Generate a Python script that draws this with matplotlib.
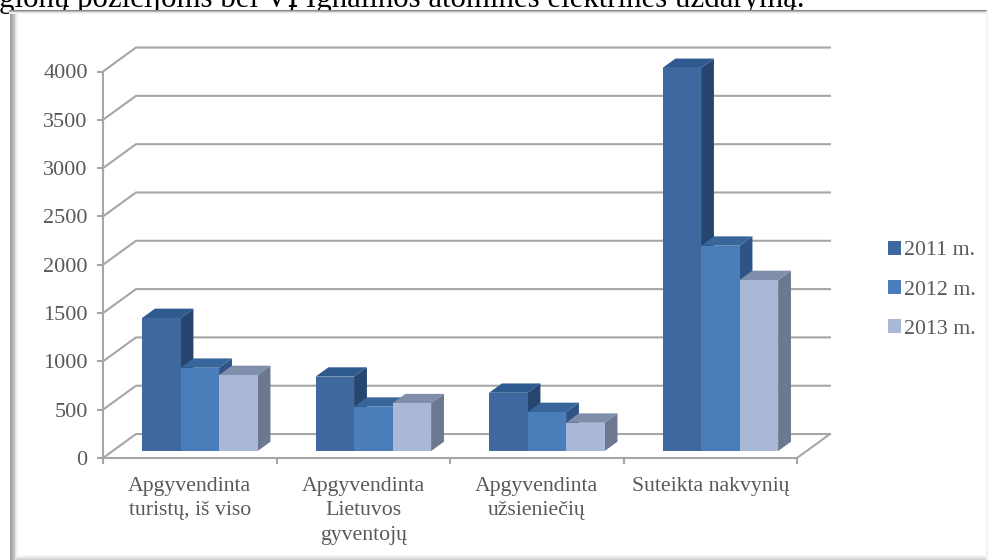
import matplotlib
matplotlib.use('Agg')
from matplotlib import pyplot as plt
from matplotlib.patches import Polygon, Patch

plt.rcParams["font.family"] = ["Liberation Serif", "DejaVu Serif"]

categories = ["Apgyvendinta\nturistų, iš viso", "Apgyvendinta\nLietuvos\ngyventojų",
              "Apgyvendinta\nužsieniečių", "Suteikta nakvynių"]
series_names = ["2011 m.", "2012 m.", "2013 m."]
values_2011 = [1377, 770, 603, 3965]
values_2012 = [862, 459, 404, 2125]
values_2013 = [787, 495, 293, 1770]
y_ticks = [0, 500, 1000, 1500, 2000, 2500, 3000, 3500, 4000]
header = "gionų pozicijoms bei VĮ Ignalinos atominės elektrinės uždarymą."

front_colors = ["#3F689F", "#4A7EBB", "#A9B8D6"]
side_colors = ["#264670", "#2F5384", "#6B7890"]
top_colors = ["#2F5A8F", "#38659A", "#7F8EAA"]
text_color = "#595959"
grid_color = "#A6A6A6"

W, H = 988, 560
fig = plt.figure(figsize=(W / 100, H / 100), dpi=100, facecolor="white")

# page background: header line cut by the picture frame, soft shadow on the edges
bg = fig.add_axes([0, 0, 1, 1], zorder=0)
bg.set_xlim(0, W)
bg.set_ylim(H, 0)
bg.axis("off")
bg.text(-1, 7, header, fontsize=22.2, color="black", va="baseline", ha="left")
bg.fill_between([0, W], 10, H, color="white", zorder=2)
for i, c in enumerate(["#9A9A9A", "#A8A8A8", "#B0B0B0", "#B8B8B8", "#C8C8C8", "#DEDEDE", "#EEEEEE", "#F7F7F7"]):
    bg.plot([9.5 + i, 9.5 + i], [10, H], color=c, lw=0.75, zorder=3)
for i, c in enumerate(["#8A8A8A", "#B5B5B5", "#E5E5E5", "#F5F5F5"]):
    bg.plot([9, W - 2], [10 + i, 10 + i], color=c, lw=0.75, zorder=3)
for i, c in enumerate(["#F8F8F8", "#F0F0F0", "#E8E8E8", "#DDDDDD", "#D0D0D0"]):
    bg.plot([16, W], [555 + i, 555 + i], color=c, lw=0.75, zorder=3)
for i, c in enumerate(["#F8F8F8", "#F0F0F0", "#E8E8E8"]):
    bg.plot([W - 3 + i + 0.5, W - 3 + i + 0.5], [11, H], color=c, lw=0.75, zorder=3)

# front plane of the plot, everything else is pushed back from it
ax = fig.add_axes([103 / W, (H - 458) / H, 694 / W, 386.5 / H], zorder=1)
ax.patch.set_alpha(0)
ax.set_xlim(0, 4)
ax.set_ylim(0, 4000)
for s in ["top", "right"]:
    ax.spines[s].set_visible(False)
for s in ["left", "bottom"]:
    ax.spines[s].set_color(grid_color)
    ax.spines[s].set_linewidth(1.5)

depth_x = 0.19
depth_y = 248


def proj(x, y, d):
    return x + d * depth_x, y + d * depth_y


# walls
for v in y_ticks:
    xs, ys = zip(proj(0, v, 0), proj(0, v, 1), proj(4, v, 1))
    ax.plot(xs, ys, color=grid_color, lw=1.5, clip_on=False, zorder=1)
xs, ys = zip(proj(4, 0, 0), proj(4, 0, 1))
ax.plot(xs, ys, color=grid_color, lw=1.5, clip_on=False, zorder=1)

# bars
bar_w = 0.222
d0, d1 = 0.29, 0.68
start = 0.17
all_values = [values_2011, values_2012, values_2013]
for g in range(len(categories)):
    for s, vals in enumerate(all_values):
        v = vals[g]
        x0 = g + start + s * bar_w
        x1 = x0 + bar_w
        side = [proj(x1, 0, d0), proj(x1, 0, d1), proj(x1, v, d1), proj(x1, v, d0)]
        top = [proj(x0, v, d0), proj(x1, v, d0), proj(x1, v, d1), proj(x0, v, d1)]
        front = [proj(x0, 0, d0), proj(x1, 0, d0), proj(x1, v, d0), proj(x0, v, d0)]
        ax.add_patch(Polygon(side, fc=side_colors[s], ec="none", clip_on=False, zorder=3))
        ax.add_patch(Polygon(top, fc=top_colors[s], ec="none", clip_on=False, zorder=3))
        ax.add_patch(Polygon(front, fc=front_colors[s], ec="none", clip_on=False, zorder=3))

ax.set_yticks(y_ticks)
ax.set_xticks(range(5))
ax.set_xticklabels([])
ax.set_xticks([i + 0.5 for i in range(4)], labels=categories, minor=True)
ax.tick_params(axis="y", length=4, width=1.5, color=grid_color, labelcolor=text_color,
               labelsize=16, pad=7)
ax.tick_params(axis="x", which="major", length=4, width=1.5, color=grid_color)
ax.tick_params(axis="x", which="minor", length=0, labelcolor=text_color, labelsize=15.7, pad=14)
for t in ax.get_xminorticklabels():
    t.set_linespacing(1.36)

handles = [Patch(fc=c, ec="none", label=n) for c, n in zip(front_colors, series_names)]
ax.legend(handles=handles, loc="upper left", bbox_to_anchor=(888 / W, (H - 241) / H),
          bbox_transform=fig.transFigure, frameon=False, fontsize=15.7, labelcolor=text_color,
          handlelength=0.58, handleheight=0.58, handletextpad=0.15, labelspacing=0.9,
          borderpad=0, borderaxespad=0)

fig.savefig("out.png", dpi=100)
